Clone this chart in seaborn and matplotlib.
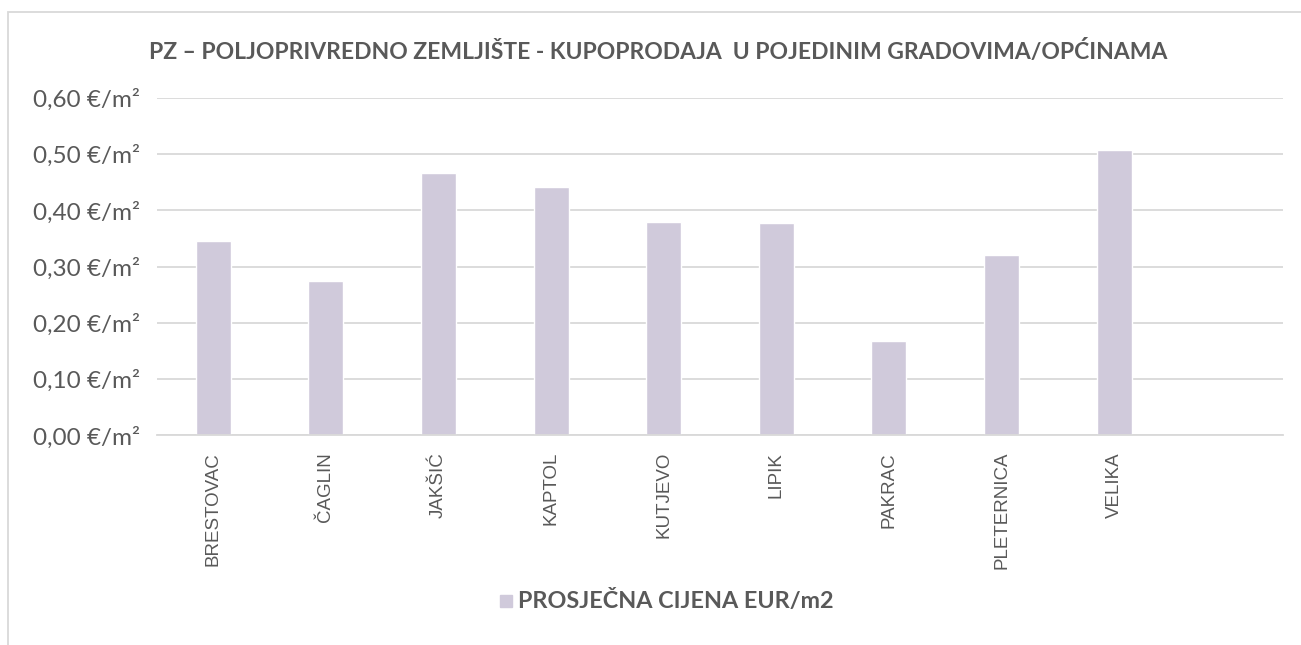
import matplotlib
matplotlib.use("Agg")
import matplotlib.pyplot as plt
import seaborn as sns
import pandas as pd
from matplotlib.patches import Rectangle

gradovi = ["BRESTOVAC", "ČAGLIN", "JAKŠIĆ", "KAPTOL", "KUTJEVO",
           "LIPIK", "PAKRAC", "PLETERNICA", "VELIKA"]
cijene = [0.345, 0.275, 0.467, 0.442, 0.379, 0.378, 0.168, 0.320, 0.508]
y_ticks = [0.0, 0.1, 0.2, 0.3, 0.4, 0.5, 0.6]
naslov = "PZ – POLJOPRIVREDNO ZEMLJIŠTE - KUPOPRODAJA  U POJEDINIM GRADOVIMA/OPĆINAMA"
legenda = "PROSJEČNA CIJENA EUR/m2"

siva = "#595959"
boja = "#d0cadb"

sns.set_theme(style="white")
plt.rcParams['font.family'] = ['Lato', 'DejaVu Sans']

df = pd.DataFrame({"grad": gradovi, "cijena": cijene})

fig = plt.figure(figsize=(13.01, 6.45), dpi=100)
ax = fig.add_axes([157 / 1301, 1 - 435.3 / 645, 1126 / 1301, (435.3 - 98) / 645])

sns.barplot(data=df, x="grad", y="cijena", color=boja, width=0.31,
            saturation=1, ax=ax)

ax.set_xlim(-0.5, 9.5)
ax.set_ylim(0, 0.6)
ax.set_yticks(y_ticks)
ax.set_yticklabels([("%.2f" % v).replace(".", ",") + " €/m²" for v in y_ticks],
                   fontsize=17.5, color=siva)
ax.set_xticks(range(len(gradovi)))
ax.set_xticklabels(gradovi, rotation=90, fontsize=13.5, color=siva,
                   family=['Liberation Sans', 'DejaVu Sans'])
ax.tick_params(axis="y", length=0, pad=12)
ax.tick_params(axis="x", length=0, pad=12)
ax.set_xlabel("")
ax.set_ylabel("")
ax.grid(axis="y", color="#d9d9d9", linewidth=1.3)
ax.set_axisbelow(True)
for s in ["top", "right", "left"]:
    ax.spines[s].set_visible(False)
ax.spines["bottom"].set_color("#d9d9d9")
ax.spines["bottom"].set_linewidth(1.3)

# okvir grafikona
fig.patches.append(Rectangle((8 / 1301, -0.1), 1.2, 1 - 12 / 645 + 0.1,
                             transform=fig.transFigure, fill=False,
                             edgecolor="#d9d9d9", linewidth=1.3))

fig.text(658 / 1301, 1 - 52 / 645, naslov, ha="center", va="center",
         fontsize=16.5, fontweight="bold", color=siva)

# legenda
fig.patches.append(Rectangle((500 / 1301, 1 - 607 / 645), 12 / 1301, 12 / 645,
                             transform=fig.transFigure, color=boja))
fig.text(518 / 1301, 1 - 601 / 645, legenda, ha="left", va="center",
         fontsize=16.8, fontweight="bold", color=siva)

fig.savefig("out.png", dpi=100, facecolor="white")
